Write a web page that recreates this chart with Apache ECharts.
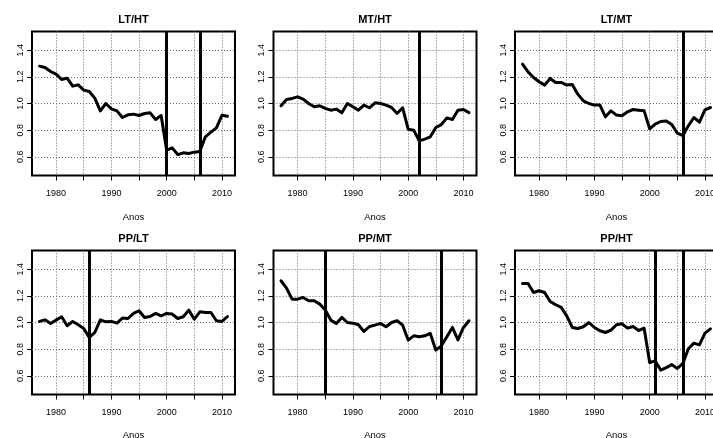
<!DOCTYPE html>
<html>
<head>
<meta charset="utf-8">
<script src="https://cdn.jsdelivr.net/npm/echarts@6/dist/echarts.min.js"></script>
<style>
html,body{margin:0;padding:0;background:#fff;}
#c{width:713px;height:438px;}
</style>
</head>
<body>
<div id="c"></div>
<script>
const years = [1977,1978,1979,1980,1981,1982,1983,1984,1985,1986,1987,1988,1989,1990,1991,1992,1993,1994,1995,1996,1997,1998,1999,2000,2001,2002,2003,2004,2005,2006,2007,2008,2009,2010,2011];
const panelTitles = ["LT/HT","MT/HT","LT/MT","PP/LT","PP/MT","PP/HT"];
const ltht = [1.28,1.27,1.24,1.22,1.18,1.19,1.13,1.14,1.10,1.09,1.04,0.945,1.00,0.96,0.945,0.895,0.915,0.92,0.91,0.925,0.93,0.88,0.91,0.65,0.667,0.617,0.63,0.625,0.635,0.64,0.75,0.785,0.817,0.912,0.905];
const mtht = [0.983,1.03,1.038,1.05,1.033,1.0,0.975,0.983,0.963,0.95,0.958,0.93,1.0,0.975,0.95,0.988,0.968,1.005,1.0,0.988,0.97,0.925,0.968,0.807,0.80,0.72,0.733,0.75,0.82,0.842,0.892,0.88,0.95,0.955,0.932];
const ltmt = [1.295,1.237,1.195,1.163,1.138,1.188,1.158,1.158,1.138,1.143,1.07,1.02,1.0,0.988,0.988,0.90,0.945,0.913,0.908,0.938,0.955,0.95,0.945,0.81,0.845,0.865,0.868,0.842,0.777,0.76,0.833,0.895,0.86,0.953,0.97];
const pplt = [1.008,1.02,0.993,1.018,1.043,0.975,1.008,0.983,0.955,0.888,0.925,1.02,1.005,1.008,0.995,1.033,1.03,1.068,1.088,1.038,1.045,1.068,1.05,1.068,1.063,1.03,1.043,1.093,1.025,1.08,1.075,1.075,1.013,1.008,1.045];
const ppmt = [1.313,1.258,1.175,1.175,1.188,1.163,1.163,1.138,1.093,1.018,0.993,1.038,1.0,0.995,0.983,0.933,0.97,0.98,0.993,0.968,1.0,1.013,0.98,0.868,0.9,0.893,0.9,0.918,0.793,0.825,0.893,0.963,0.87,0.963,1.013];
const ppht = [1.293,1.293,1.225,1.238,1.225,1.158,1.133,1.113,1.05,0.963,0.955,0.968,1.0,0.963,0.938,0.925,0.943,0.983,0.99,0.958,0.97,0.94,0.957,0.70,0.712,0.643,0.662,0.684,0.655,0.693,0.803,0.845,0.832,0.92,0.952];
const breakYears = [[2000,2006],[2002],[2006],[1986],[1985,2006],[2001,2006]];
const xTicks = [1980,1985,1990,1995,2000,2005,2010];
const xLabels = [1980,1990,2000,2010];
const yTicks = [0.6,0.8,1.0,1.2,1.4];
const xLabelName = "Anos";

const seriesValues = [ltht, mtht, ltmt, pplt, ppmt, ppht];
const FONT = "'Liberation Sans', Arial, Helvetica, sans-serif";
const colLeft = [32, 273.5, 515];
const plotW = 203;
const rowTop = [31.5, 250.5];
const plotH = 144;

const grids = [], xAxes = [], yAxes = [], series = [], titles = [];
for (let i = 0; i < 6; i++) {
  const r = Math.floor(i / 3), c = i % 3;
  grids.push({left: colLeft[c], top: rowTop[r], width: plotW, height: plotH,
    outerBoundsMode: 'none',
    show: true, borderColor: '#000', borderWidth: 2, backgroundColor: 'transparent', containLabel: false});
  xAxes.push({type: 'value', gridIndex: i, min: 1975.64, max: 2012.36,
    axisLine: {show: false},
    axisTick: {show: true, inside: false, length: 5, customValues: xTicks, lineStyle: {color: '#000', width: 1}},
    axisLabel: {show: true, customValues: xLabels, margin: 14, fontSize: 9, color: '#000', fontFamily: FONT,
      hideOverlap: false, formatter: v => String(Math.round(v))},
    splitLine: {show: true, lineStyle: {color: '#666', type: [1, 2], width: 1}}
  });
  yAxes.push({type: 'value', gridIndex: i, min: 0.46, max: 1.54,
    axisLine: {show: false},
    axisTick: {show: true, inside: false, length: 5, customValues: yTicks, lineStyle: {color: '#000', width: 1}},
    axisLabel: {show: true, customValues: yTicks, rotate: 90, margin: 7, fontSize: 9, color: '#000', fontFamily: FONT,
      formatter: v => v.toFixed(1)},
    splitLine: {show: true, lineStyle: {color: '#666', type: [1, 2], width: 1}}
  });
  series.push({type: 'line', xAxisIndex: i, yAxisIndex: i,
    data: years.map((y, k) => [y, seriesValues[i][k]]),
    symbol: 'none', smooth: false, animation: false,
    lineStyle: {color: '#000', width: 3, join: 'round', cap: 'round'},
    markLine: {silent: true, symbol: ['none', 'none'], animation: false,
      label: {show: false},
      lineStyle: {color: '#000', width: 3, type: 'solid'},
      data: breakYears[i].map(b => ({xAxis: b}))}
  });
  const cx = colLeft[c] + plotW / 2;
  titles.push({text: panelTitles[i], left: cx, top: 14 + r * 219, textAlign: 'center', padding: 0,
    textStyle: {fontSize: 11, fontWeight: 'bold', color: '#000', fontFamily: FONT}});
  titles.push({text: xLabelName, left: cx, top: 212.5 + r * 218, textAlign: 'center', padding: 0,
    textStyle: {fontSize: 9.5, fontWeight: 'normal', color: '#000', fontFamily: FONT}});
}

const chart = echarts.init(document.getElementById('c'), null, {renderer: 'canvas'});
chart.setOption({
  animation: false,
  backgroundColor: '#fff',
  title: titles,
  grid: grids,
  xAxis: xAxes,
  yAxis: yAxes,
  series: series
});
</script>
</body>
</html>
